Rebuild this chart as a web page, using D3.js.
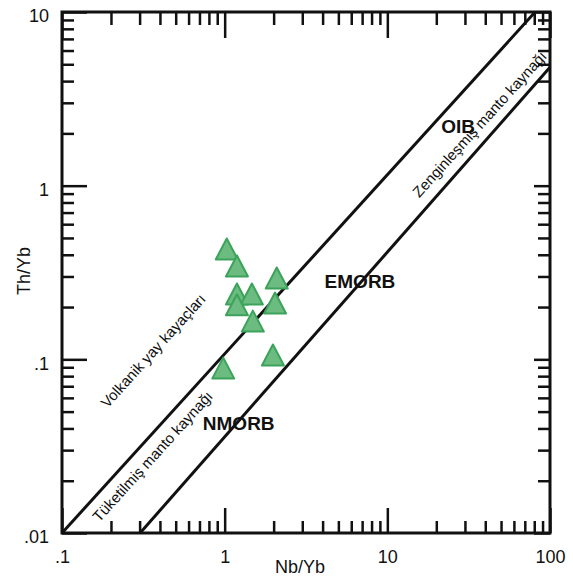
<!DOCTYPE html>
<html><head><meta charset="utf-8">
<script src="https://cdn.jsdelivr.net/npm/d3@7"></script>
<style>
html,body{margin:0;padding:0;background:#fff;}
svg{display:block;}
text{font-family:Arial,"Liberation Sans",sans-serif;fill:#111;}
</style></head>
<body>
<svg id="c" width="573" height="576"></svg>
<script>
// ---- data ----
const nbYb = [1.03, 1.19, 2.09, 1.19, 1.47, 1.19, 2.04, 1.49, 1.98, 0.98];
const thYb = [0.432, 0.345, 0.294, 0.238, 0.238, 0.206, 0.211, 0.166, 0.106, 0.089];
const xMajor = [0.1, 1, 10, 100];
const xMajorLabels = [".1", "1", "10", "100"];
const yMajor = [0.01, 0.1, 1, 10];
const yMajorLabels = [".01", ".1", "1", "10"];
// MORB-OIB array boundary lines (endpoints in data units)
const upperLine = [[0.1, 0.01], [81, 10]];
const lowerLine = [[0.302, 0.01], [100, 4.8]];
const fieldLabels = [
  {text: "OIB", x: 27.2, y: 2.21},
  {text: "EMORB", x: 6.79, y: 0.283},
  {text: "NMORB", x: 1.22, y: 0.0430}
];
const lineLabels = [
  {text: "Volkanik yay kayaçları", x: 0.384, y: 0.107},
  {text: "Tüketilmiş manto kaynağı", x: 0.381, y: 0.0264},
  {text: "Zenginleşmiş manto kaynağı", x: 39.0, y: 2.16}
];

// ---- layout ----
const L = 62, R = 550, T = 12, B = 533;
const svg = d3.select("#c");
const x = d3.scaleLog().domain([0.1, 100]).range([L, R]);
const y = d3.scaleLog().domain([0.01, 10]).range([B, T]);

function minors(lo, hi) {
  const out = [];
  for (let d = lo; d < hi; d *= 10) for (let m = 2; m <= 9; m++) out.push(d * m);
  return out;
}
const xMinor = minors(0.1, 100);
const yMinor = minors(0.01, 10);

function styleAxis(g) {
  g.select(".domain").remove();
  g.selectAll(".tick line").attr("stroke", "#111").attr("stroke-width", 2.5);
  g.selectAll(".tick text").attr("font-size", 18).attr("fill", "#111")
    .attr("font-family", 'Arial,"Liberation Sans",sans-serif');
}
const fmt = (vals, labels) => v => labels[vals.indexOf(v)];

// bottom
svg.append("g").attr("transform", `translate(0,${B})`)
  .call(d3.axisBottom(x).tickValues(xMinor).tickSize(-12).tickFormat(""))
  .call(styleAxis);
svg.append("g").attr("transform", `translate(0,${B})`)
  .call(d3.axisBottom(x).tickValues(xMajor).tickSize(-25).tickPadding(17).tickFormat(fmt(xMajor, xMajorLabels)))
  .call(styleAxis);
// top
svg.append("g").attr("transform", `translate(0,${T})`)
  .call(d3.axisTop(x).tickValues(xMinor).tickSize(-13).tickFormat(""))
  .call(styleAxis);
svg.append("g").attr("transform", `translate(0,${T})`)
  .call(d3.axisTop(x).tickValues(xMajor).tickSize(-26).tickFormat(""))
  .call(styleAxis);
// left
svg.append("g").attr("transform", `translate(${L},0)`)
  .call(d3.axisLeft(y).tickValues(yMinor).tickSize(-12).tickFormat(""))
  .call(styleAxis);
const yl = svg.append("g").attr("transform", `translate(${L},0)`)
  .call(d3.axisLeft(y).tickValues(yMajor).tickSize(-25).tickPadding(13).tickFormat(fmt(yMajor, yMajorLabels)))
  .call(styleAxis);
yl.selectAll(".tick text").attr("dy", "0.55em");
// right
svg.append("g").attr("transform", `translate(${R},0)`)
  .call(d3.axisRight(y).tickValues(yMinor).tickSize(-12).tickFormat(""))
  .call(styleAxis);
svg.append("g").attr("transform", `translate(${R},0)`)
  .call(d3.axisRight(y).tickValues(yMajor).tickSize(-16).tickFormat(""))
  .call(styleAxis);

// frame
svg.append("rect").attr("x", L).attr("y", T).attr("width", R - L).attr("height", B - T)
  .attr("fill", "none").attr("stroke", "#111").attr("stroke-width", 3);

// boundary lines
const line = d3.line().x(d => x(d[0])).y(d => y(d[1]));
[upperLine, lowerLine].forEach(l => {
  svg.append("path").attr("d", line(l)).attr("fill", "none")
    .attr("stroke", "#111").attr("stroke-width", 3);
});

// angle of lines in pixel space
const ang = Math.atan2(y(upperLine[0][1]) - y(upperLine[1][1]), x(upperLine[1][0]) - x(upperLine[0][0])) * 180 / Math.PI;

// line labels (rotated)
svg.selectAll(".ll").data(lineLabels).join("text").attr("class", "ll")
  .attr("transform", d => `translate(${x(d.x)},${y(d.y)}) rotate(${-ang})`)
  .attr("text-anchor", "middle").attr("font-size", 15).attr("fill", "#222")
  .text(d => d.text);

// points (triangles)
const tw = 22, th = 21;
const tri = `M0,${-th/2}L${tw/2},${th/2}L${-tw/2},${th/2}Z`;
svg.selectAll(".pt").data(nbYb.map((v, i) => [v, thYb[i]])).join("path").attr("class", "pt")
  .attr("d", tri)
  .attr("transform", d => `translate(${x(d[0])},${y(d[1])})`)
  .attr("fill", "#6cbb80").attr("stroke", "#3ba35a").attr("stroke-width", 2)
  .attr("stroke-linejoin", "round");

// field labels
svg.selectAll(".fl").data(fieldLabels).join("text").attr("class", "fl")
  .attr("x", d => x(d.x)).attr("y", d => y(d.y)).attr("dy", "0.36em")
  .attr("text-anchor", "middle").attr("font-size", 19).attr("font-weight", "bold")
  .attr("fill", "#111").text(d => d.text);

// axis titles
svg.append("text").attr("x", 300).attr("y", 573).attr("text-anchor", "middle")
  .attr("font-size", 18).text("Nb/Yb");
svg.append("text").attr("transform", "translate(30,271) rotate(-90)").attr("text-anchor", "middle")
  .attr("font-size", 18).text("Th/Yb");
</script>
</body></html>
